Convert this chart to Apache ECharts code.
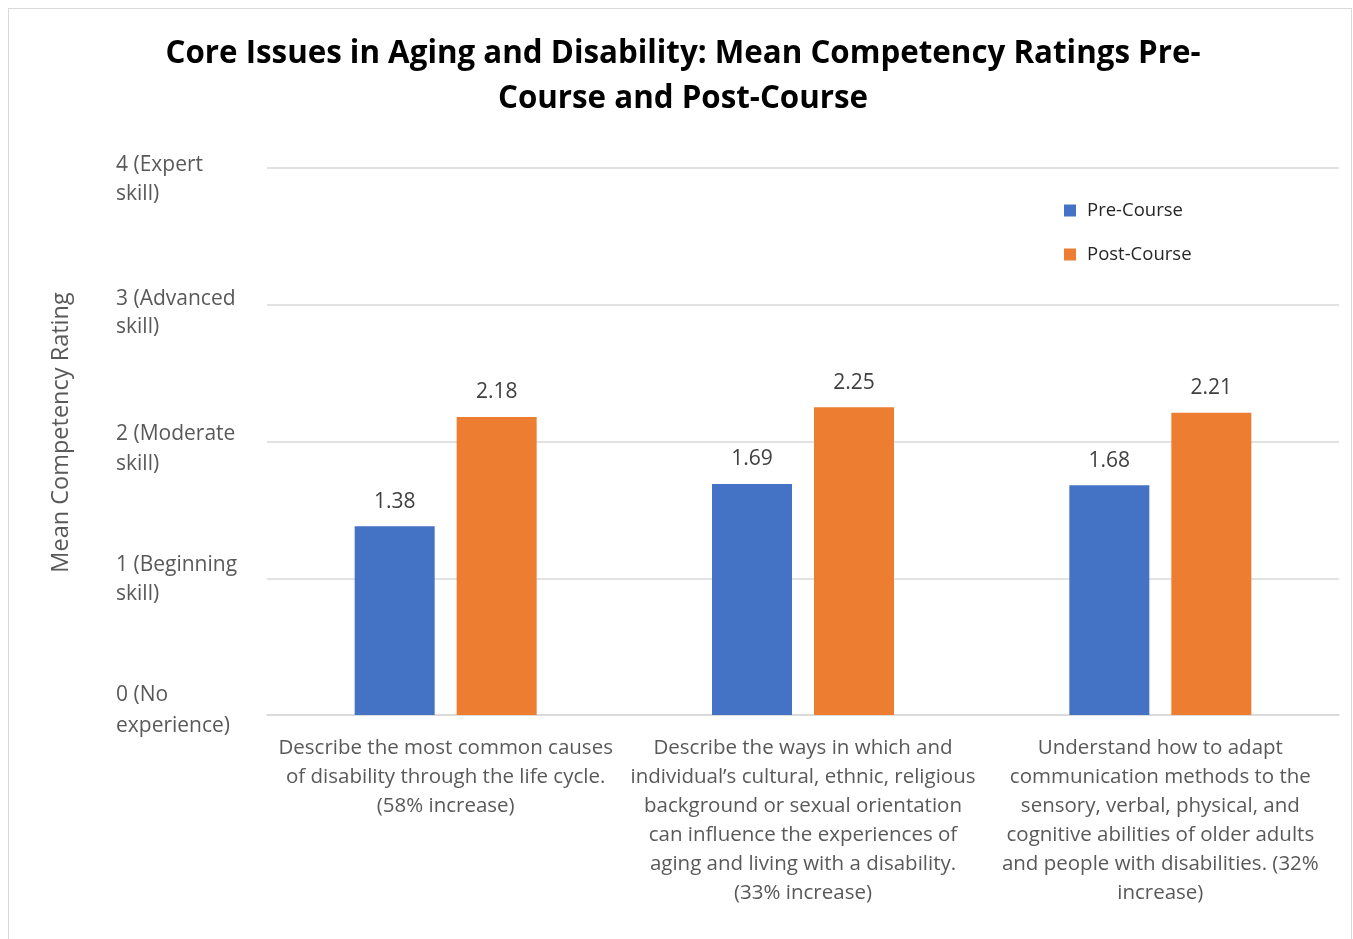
<!DOCTYPE html>
<html>
<head>
<meta charset="utf-8">
<script src="https://cdn.jsdelivr.net/npm/echarts@6/dist/echarts.min.js"></script>
<style>
html,body{margin:0;padding:0;background:#fff;}
#frame{position:absolute;left:8px;top:8px;width:1344px;height:940px;border:1px solid #d9d9d9;box-sizing:border-box;}
#chart{position:absolute;left:0;top:0;width:1353px;height:939px;}
</style>
</head>
<body>
<div id="frame"></div>
<div id="chart"></div>
<script>
const titleText = "Core Issues in Aging and Disability: Mean Competency Ratings Pre-\nCourse and Post-Course";
const categories = [
  "Describe the most common causes\nof disability through the life cycle.\n(58% increase)",
  "Describe the ways in which and\nindividual\u2019s cultural, ethnic, religious\nbackground or sexual orientation\ncan influence the experiences of\naging and living with a disability.\n(33% increase)",
  "Understand how to adapt\ncommunication methods to the\nsensory, verbal, physical, and\ncognitive abilities of older adults\nand people with disabilities. (32%\nincrease)"
];
const preCourse = [1.38, 1.69, 1.68];
const postCourse = [2.18, 2.25, 2.21];
const yTickLabels = ["0 (No\nexperience)", "1 (Beginning\nskill)", "2 (Moderate\nskill)", "3 (Advanced\nskill)", "4 (Expert\nskill)"];
const yAxisName = "Mean Competency Rating";
const seriesNames = ["Pre-Course", "Post-Course"];

const FONT = "Open Sans";
// per-tick line-height pairs (first line, second line) reproduce the slight vertical offsets of the original labels
const yLineHeights = [[22, 40], [32, 26], [46, 14], [44, 12], [52, 6]];
const yRich = {};
yLineHeights.forEach((lh, i) => {
  yRich['a' + i] = {fontFamily: FONT, fontSize: 21, color: '#595959', lineHeight: lh[0]};
  yRich['b' + i] = {fontFamily: FONT, fontSize: 21, color: '#595959', lineHeight: lh[1]};
});

const chart = echarts.init(document.getElementById('chart'), null, {renderer: 'canvas'});
const barLabel = {show: true, position: 'top', distance: 14, fontFamily: FONT, fontSize: 21, color: '#404040', formatter: p => p.value.toFixed(2)};
chart.setOption({
  animation: false,
  textStyle: {fontFamily: FONT},
  title: {
    text: titleText,
    left: 678, textAlign: 'center', top: 27,
    textStyle: {fontFamily: FONT, fontSize: 31.3, fontWeight: 'bold', color: '#000', lineHeight: 45}
  },
  legend: {
    orient: 'vertical', left: 1059, top: 196,
    itemWidth: 12, itemHeight: 12, itemGap: 25,
    icon: 'rect',
    textStyle: {fontFamily: FONT, fontSize: 18.5, lineHeight: 18, color: '#262626', padding: [0,0,0,6]},
    data: seriesNames
  },
  grid: {left: 267, right: 14, top: 168, bottom: 224, containLabel: false},
  xAxis: {
    type: 'category', data: categories,
    axisLine: {show: true, lineStyle: {color: '#d9d9d9', width: 1.5}},
    axisTick: {show: false},
    axisLabel: {fontFamily: FONT, fontSize: 20.5, color: '#595959', lineHeight: 29, margin: 19, interval: 0, align: 'center'}
  },
  yAxis: {
    type: 'value', min: 0, max: 4, interval: 1,
    name: yAxisName, nameLocation: 'middle', nameGap: 194, nameRotate: 90,
    nameTextStyle: {fontFamily: FONT, fontSize: 23.5, color: '#595959', padding: [0, 0, 0, 18]},
    axisLine: {show: false}, axisTick: {show: false},
    splitLine: {lineStyle: {color: '#d9d9d9', width: 1.5}},
    axisLabel: {
      fontFamily: FONT, fontSize: 21, color: '#595959', align: 'left', margin: 151,
      rich: yRich,
      formatter: v => {
        const i = Math.round(v);
        const parts = yTickLabels[i].split('\n');
        return '{a' + i + '|' + parts[0] + '}\n{b' + i + '|' + parts[1] + '}';
      }
    }
  },
  series: [
    {name: seriesNames[0], type: 'bar', data: preCourse, barWidth: 80, barGap: '27.5%',
     itemStyle: {color: '#4472C4'}, label: barLabel},
    {name: seriesNames[1], type: 'bar', data: postCourse, barWidth: 80, barGap: '27.5%',
     itemStyle: {color: '#ED7D31'}, label: barLabel}
  ]
});
</script>
</body>
</html>
